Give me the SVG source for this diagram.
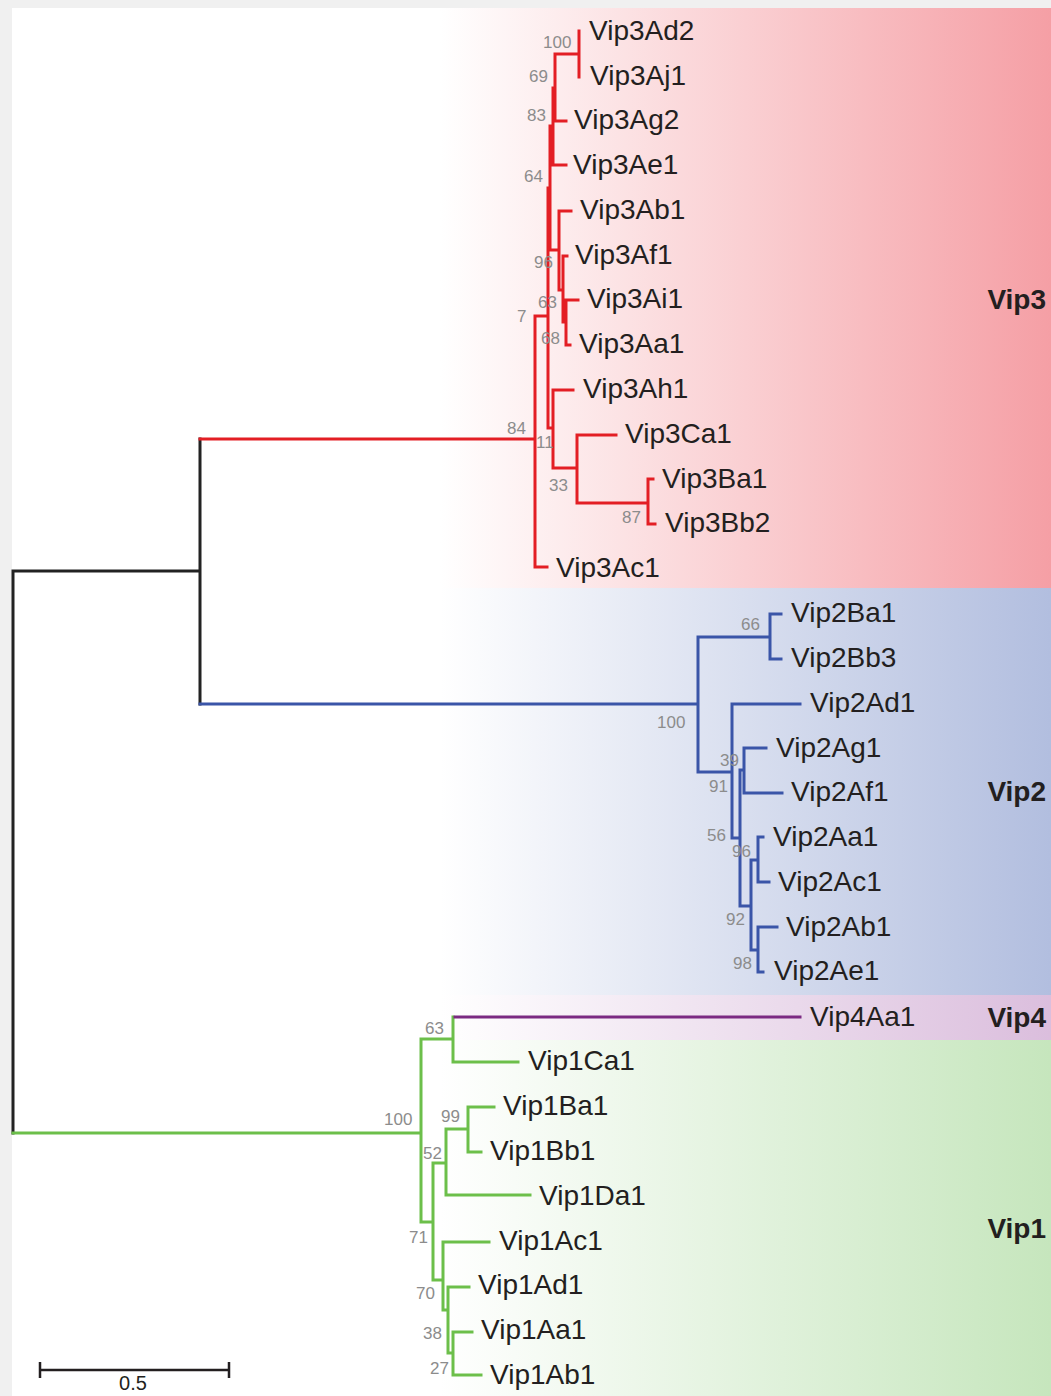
<svg xmlns="http://www.w3.org/2000/svg" width="1051" height="1396" viewBox="0 0 1051 1396">
<style>
.leaf{font-family:"Liberation Sans",Arial,sans-serif;font-size:28px;fill:#231f20}
.bs{font-family:"Liberation Sans",Arial,sans-serif;font-size:17px;fill:#8c8c8c}
.clade{font-family:"Liberation Sans",Arial,sans-serif;font-size:28px;font-weight:bold;fill:#231f20;text-anchor:end}
.br{fill:none;stroke-width:3;stroke-linecap:square;stroke-linejoin:miter}
.red{stroke:#e31e24}.blue{stroke:#3a55a8}.green{stroke:#6cbf4a}.purple{stroke:#7b2a82}.black{stroke:#222}
</style>
<defs>
<linearGradient id="g3" gradientUnits="userSpaceOnUse" x1="440" y1="0" x2="1051" y2="0"><stop offset="0" stop-color="#ffffff"/><stop offset="1" stop-color="#f59fa5"/></linearGradient>
<linearGradient id="g2" gradientUnits="userSpaceOnUse" x1="440" y1="0" x2="1051" y2="0"><stop offset="0" stop-color="#ffffff"/><stop offset="1" stop-color="#b2bedf"/></linearGradient>
<linearGradient id="g4" gradientUnits="userSpaceOnUse" x1="440" y1="0" x2="1051" y2="0"><stop offset="0" stop-color="#ffffff"/><stop offset="1" stop-color="#dbbedd"/></linearGradient>
<linearGradient id="g1" gradientUnits="userSpaceOnUse" x1="440" y1="0" x2="1051" y2="0"><stop offset="0" stop-color="#ffffff"/><stop offset="1" stop-color="#c6e6bd"/></linearGradient>
</defs>
<g id="background">
<rect x="0" y="0" width="1051" height="1396" fill="#f0f0f0"/>
<rect x="12" y="8" width="1039" height="1388" fill="#ffffff"/>
<rect x="12" y="8" width="1039" height="580" fill="url(#g3)"/>
<rect x="12" y="588" width="1039" height="407" fill="url(#g2)"/>
<rect x="12" y="995" width="1039" height="45" fill="url(#g4)"/>
<rect x="12" y="1040" width="1039" height="356" fill="url(#g1)"/>
</g>
<g id="connectors">
<path class="br black" d="M13,1133 V571 H200 M200,439 V704"/>
<path class="br red" d="M200,439 H535 M535,316 V567 M535,567 H547 M535,316 H548 M548,188 V428 M548,428 H553 M553,390 V468 M553,390 H573 M553,468 H577 M577,435 V503 M577,435 H616 M577,503 H648 M648,479 V524 M648,479 H653 M648,524 H655 M548,188 H550 M550,126 V250 M550,126 H553 M553,88 V165 M553,165 H566 M553,88 H555 M555,54 V121 M555,121 H566 M555,54 H579 M579,31 V77 M550,250 H559 M559,211 V290 M559,211 H571 M559,290 H563 M563,256 V322 M563,256 H567 M563,322 H566 M566,300 V345 M566,300 H578 M566,345 H570"/>
<path class="br blue" d="M200,704 H698 M698,637 V772 M698,637 H770 M770,614 V659 M770,614 H781 M770,659 H781 M698,772 H732 M732,704 V838 M732,704 H800 M732,838 H740 M740,770 V906 M740,770 H744 M744,748 V793 M744,748 H766 M744,793 H782 M740,906 H751 M751,860 V950 M751,860 H758 M758,837 V882 M758,837 H763 M758,882 H769 M751,950 H758 M758,927 V972 M758,927 H777 M758,972 H763"/>
<path class="br green" d="M13,1133 H421 M421,1039 V1222 M421,1039 H453 M453,1017 V1062 M453,1062 H518 M421,1222 H433 M433,1163 V1280 M433,1163 H446 M446,1129 V1195 M446,1129 H468 M468,1107 V1152 M468,1107 H494 M468,1152 H481 M446,1195 H530 M433,1280 H443 M443,1242 V1310 M443,1242 H489 M443,1310 H448 M448,1287 V1353 M448,1287 H469 M448,1353 H453 M453,1332 V1375 M453,1332 H472 M453,1375 H481"/>
<path class="br purple" d="M455,1017 H800"/>
</g>
<g id="vip3-leaves">
<g id="Vip3Ad2"><text class="leaf" x="589" y="40">Vip3Ad2</text></g>
<g id="Vip3Aj1"><text class="leaf" x="590" y="85">Vip3Aj1</text></g>
<g id="Vip3Ag2"><text class="leaf" x="574" y="129">Vip3Ag2</text></g>
<g id="Vip3Ae1"><text class="leaf" x="573" y="174">Vip3Ae1</text></g>
<g id="Vip3Ab1"><text class="leaf" x="580" y="219">Vip3Ab1</text></g>
<g id="Vip3Af1"><text class="leaf" x="575" y="264">Vip3Af1</text></g>
<g id="Vip3Ai1"><text class="leaf" x="587" y="308">Vip3Ai1</text></g>
<g id="Vip3Aa1"><text class="leaf" x="579" y="353">Vip3Aa1</text></g>
<g id="Vip3Ah1"><text class="leaf" x="583" y="398">Vip3Ah1</text></g>
<g id="Vip3Ca1"><text class="leaf" x="625" y="443">Vip3Ca1</text></g>
<g id="Vip3Ba1"><text class="leaf" x="662" y="488">Vip3Ba1</text></g>
<g id="Vip3Bb2"><text class="leaf" x="665" y="532">Vip3Bb2</text></g>
<g id="Vip3Ac1"><text class="leaf" x="556" y="577">Vip3Ac1</text></g>
</g>
<g id="vip2-leaves">
<g id="Vip2Ba1"><text class="leaf" x="791" y="622">Vip2Ba1</text></g>
<g id="Vip2Bb3"><text class="leaf" x="791" y="667">Vip2Bb3</text></g>
<g id="Vip2Ad1"><text class="leaf" x="810" y="712">Vip2Ad1</text></g>
<g id="Vip2Ag1"><text class="leaf" x="776" y="757">Vip2Ag1</text></g>
<g id="Vip2Af1"><text class="leaf" x="791" y="801">Vip2Af1</text></g>
<g id="Vip2Aa1"><text class="leaf" x="773" y="846">Vip2Aa1</text></g>
<g id="Vip2Ac1"><text class="leaf" x="778" y="891">Vip2Ac1</text></g>
<g id="Vip2Ab1"><text class="leaf" x="786" y="936">Vip2Ab1</text></g>
<g id="Vip2Ae1"><text class="leaf" x="774" y="980">Vip2Ae1</text></g>
</g>
<g id="vip4-leaves">
<g id="Vip4Aa1"><text class="leaf" x="810" y="1026">Vip4Aa1</text></g>
</g>
<g id="vip1-leaves">
<g id="Vip1Ca1"><text class="leaf" x="528" y="1070">Vip1Ca1</text></g>
<g id="Vip1Ba1"><text class="leaf" x="503" y="1115">Vip1Ba1</text></g>
<g id="Vip1Bb1"><text class="leaf" x="490" y="1160">Vip1Bb1</text></g>
<g id="Vip1Da1"><text class="leaf" x="539" y="1205">Vip1Da1</text></g>
<g id="Vip1Ac1"><text class="leaf" x="499" y="1250">Vip1Ac1</text></g>
<g id="Vip1Ad1"><text class="leaf" x="478" y="1294">Vip1Ad1</text></g>
<g id="Vip1Aa1"><text class="leaf" x="481" y="1339">Vip1Aa1</text></g>
<g id="Vip1Ab1"><text class="leaf" x="490" y="1384">Vip1Ab1</text></g>
</g>
<g id="bootstrap">
<text class="bs" x="543" y="48">100</text>
<text class="bs" x="529" y="82">69</text>
<text class="bs" x="527" y="121">83</text>
<text class="bs" x="524" y="182">64</text>
<text class="bs" x="534" y="268">96</text>
<text class="bs" x="538" y="308">63</text>
<text class="bs" x="517" y="322">7</text>
<text class="bs" x="541" y="344">68</text>
<text class="bs" x="507" y="434">84</text>
<text class="bs" x="536" y="448">11</text>
<text class="bs" x="549" y="491">33</text>
<text class="bs" x="622" y="523">87</text>
<text class="bs" x="741" y="630">66</text>
<text class="bs" x="657" y="728">100</text>
<text class="bs" x="720" y="766">39</text>
<text class="bs" x="709" y="792">91</text>
<text class="bs" x="707" y="841">56</text>
<text class="bs" x="732" y="857">96</text>
<text class="bs" x="726" y="925">92</text>
<text class="bs" x="733" y="969">98</text>
<text class="bs" x="425" y="1034">63</text>
<text class="bs" x="384" y="1125">100</text>
<text class="bs" x="441" y="1122">99</text>
<text class="bs" x="423" y="1159">52</text>
<text class="bs" x="409" y="1243">71</text>
<text class="bs" x="416" y="1299">70</text>
<text class="bs" x="423" y="1339">38</text>
<text class="bs" x="430" y="1374">27</text>
</g>
<g id="clade-labels">
<text class="clade" x="1046" y="309">Vip3</text>
<text class="clade" x="1046" y="801">Vip2</text>
<text class="clade" x="1046" y="1027">Vip4</text>
<text class="clade" x="1046" y="1238">Vip1</text>
</g>
<g id="scale-bar">
<path d="M40,1370 H229 M40,1362 V1378 M229,1362 V1378" fill="none" stroke="#231f20" stroke-width="2.5"/>
<text x="133" y="1390" text-anchor="middle" font-family="Liberation Sans, Arial, sans-serif" font-size="20" fill="#231f20">0.5</text>
</g>
</svg>
